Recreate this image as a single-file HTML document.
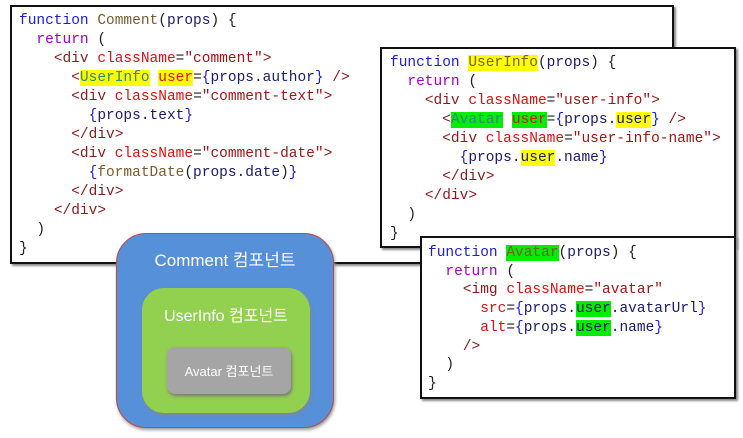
<!DOCTYPE html>
<html><head><meta charset="utf-8"><style>
body{margin:0;width:743px;height:438px;background:#fff;position:relative;overflow:hidden;font-family:"Liberation Sans","Noto Sans CJK KR",sans-serif}
.box{position:absolute;background:#fff;border:2px solid #111;box-shadow:2px 2px 2px #888;box-sizing:border-box}
pre{margin:0;position:absolute;font-family:"Liberation Mono",monospace;font-size:14.5px;line-height:19px;color:#222}
.k{color:#1c1cdc}.f{color:#7a5c2e}.r{color:#a000c8}.t{color:#8b1a1a}.a{color:#e01010}.s{color:#a31515}.b{color:#1c1cdc}.p{color:#1a1a70}.c{color:#2a8a8a}
.y{background:#ffff00}.g{background:#00ee00}
.rr{position:absolute;border-radius:22px;color:#fff;text-align:center;box-sizing:border-box}
</style></head><body>
<div class="box" style="left:10px;top:5px;width:664px;height:259px"></div>
<pre style="left:19px;top:12px"><span class="k">function</span> <span class="f">Comment</span>(<span class="p">props</span>) {
  <span class="r">return</span> (
    <span class="t">&lt;div</span> <span class="a">className</span>=<span class="s">"comment"</span><span class="t">&gt;</span>
      <span class="t">&lt;</span><span class="c y">UserInfo</span> <span class="a y">user</span>=<span class="b">{</span><span class="p">props.author</span><span class="b">}</span> <span class="t">/&gt;</span>
      <span class="t">&lt;div</span> <span class="a">className</span>=<span class="s">"comment-text"</span><span class="t">&gt;</span>
        <span class="b">{</span><span class="p">props.text</span><span class="b">}</span>
      <span class="t">&lt;/div&gt;</span>
      <span class="t">&lt;div</span> <span class="a">className</span>=<span class="s">"comment-date"</span><span class="t">&gt;</span>
        <span class="b">{</span><span class="f">formatDate</span>(<span class="p">props.date</span>)<span class="b">}</span>
      <span class="t">&lt;/div&gt;</span>
    <span class="t">&lt;/div&gt;</span>
  )
}</pre>
<div class="box" style="left:380px;top:47px;width:356px;height:201px"></div>
<pre style="left:390px;top:54px"><span class="k">function</span> <span class="f y">UserInfo</span>(<span class="p">props</span>) {
  <span class="r">return</span> (
    <span class="t">&lt;div</span> <span class="a">className</span>=<span class="s">"user-info"</span><span class="t">&gt;</span>
      <span class="t">&lt;</span><span class="c g">Avatar</span> <span class="a g">user</span>=<span class="b">{</span><span class="p">props.<span class="y">user</span></span><span class="b">}</span> <span class="t">/&gt;</span>
      <span class="t">&lt;div</span> <span class="a">className</span>=<span class="s">"user-info-name"</span><span class="t">&gt;</span>
        <span class="b">{</span><span class="p">props.<span class="y">user</span>.name</span><span class="b">}</span>
      <span class="t">&lt;/div&gt;</span>
    <span class="t">&lt;/div&gt;</span>
  )
}</pre>
<div class="box" style="left:420px;top:236px;width:316px;height:163px"></div>
<pre style="left:428px;top:244px;line-height:18.7px"><span class="k">function</span> <span class="f g">Avatar</span>(<span class="p">props</span>) {
  <span class="r">return</span> (
    <span class="t">&lt;img</span> <span class="a">className</span>=<span class="s">"avatar"</span>
      <span class="a">src</span>=<span class="b">{</span><span class="p">props.<span class="g">user</span>.avatarUrl</span><span class="b">}</span>
      <span class="a">alt</span>=<span class="b">{</span><span class="p">props.<span class="g">user</span>.name</span><span class="b">}</span>
    <span class="t">/&gt;</span>
  )
}</pre>
<div class="rr" style="left:116px;top:233px;width:218px;height:195px;background:#5590d8;border:1px solid #c04848;border-radius:30px;box-shadow:1px 2px 3px #999;font-size:17px;padding-top:12px">Comment 컴포넌트</div>
<div class="rr" style="left:142px;top:288px;width:168px;height:125px;background:#92d050;font-size:16px;padding-top:14px;box-shadow:1px 2px 3px #888">UserInfo 컴포넌트</div>
<div class="rr" style="left:167px;top:347px;width:124px;height:47px;background:#a5a5a5;border-radius:8px;font-size:13px;padding-top:14px;box-shadow:1px 2px 3px #777">Avatar 컴포넌트</div>
</body></html>
